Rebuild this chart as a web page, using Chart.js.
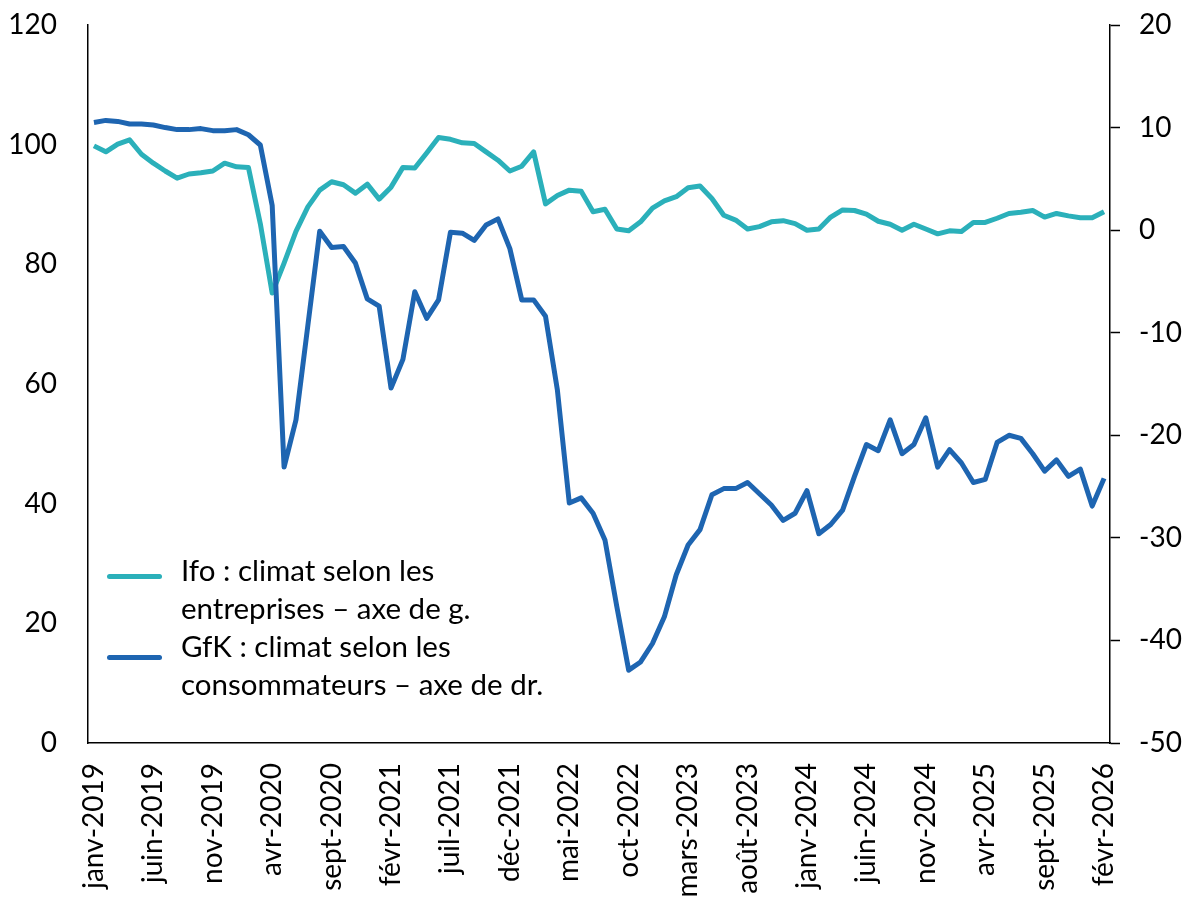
<!DOCTYPE html>
<html>
<head>
<meta charset="utf-8">
<script src="https://cdn.jsdelivr.net/npm/chart.js@4.4.0/dist/chart.umd.min.js"></script>
<style>
  html, body { margin: 0; padding: 0; background: #ffffff; }
  #wrap { position: relative; width: 1185px; height: 903px; }
  #c { position: absolute; left: 0; top: 0; }
  #legend { position: absolute; left: 0; top: 0; width: 1185px; height: 903px; pointer-events: none;
            font-family: 'Lato', 'Carlito', sans-serif; font-size: 29.5px; color: #000; }
  .mk { position: absolute; width: 55px; height: 5px; border-radius: 2.5px; }
  .tx { position: absolute; left: 181px; line-height: 37.5px; white-space: nowrap; }
</style>
</head>
<body>
<div id="wrap">
  <canvas id="c" width="1185" height="903"></canvas>
  <div id="legend"></div>
</div>
<script>
// ---- data ----
const monthNames = ['janv','févr','mars','avr','mai','juin','juil','août','sept','oct','nov','déc'];
const categories = [];
for (let y = 2019; y <= 2026; y++) {
  for (let m = 0; m < 12; m++) {
    if (y === 2026 && m > 1) break;
    categories.push(monthNames[m] + '-' + y);
  }
}
const tickEvery = 5;

// Ifo business climate (left axis)
const ifoValues = [
  99.8, 98.8, 100.1, 100.8, 98.4, 96.9, 95.6, 94.4, 95.1, 95.3, 95.6, 96.9,
  96.3, 96.2, 86.8, 75.2, 80.2, 85.5, 89.6, 92.4, 93.8, 93.3, 91.9, 93.4,
  90.9, 92.9, 96.2, 96.1, 98.6, 101.2, 100.9, 100.3, 100.2, 98.8, 97.4, 95.6,
  96.4, 98.8, 90.1, 91.5, 92.4, 92.2, 88.8, 89.2, 85.9, 85.6, 87.1, 89.4,
  90.6, 91.3, 92.8, 93.1, 91.0, 88.2, 87.4, 85.9, 86.3, 87.1, 87.3, 86.8,
  85.7, 85.9, 87.9, 89.1, 89.0, 88.4, 87.2, 86.7, 85.7, 86.7, 85.9, 85.1,
  85.6, 85.5, 87.0, 87.0, 87.7, 88.5, 88.7, 89.0, 87.9, 88.5, 88.1, 87.8,
  87.8, 88.8
];

// GfK consumer climate (right axis)
const gfkValues = [
  10.5, 10.7, 10.6, 10.35, 10.35, 10.25, 10.0, 9.8, 9.8, 9.9, 9.7, 9.7,
  9.8, 9.3, 8.3, 2.4, -23.1, -18.5, -9.3, -0.1, -1.7, -1.6, -3.2, -6.7,
  -7.4, -15.4, -12.6, -6.0, -8.6, -6.8, -0.2, -0.3, -1.0, 0.5, 1.1, -1.8,
  -6.8, -6.8, -8.4, -15.6, -26.6, -26.1, -27.6, -30.2, -36.7, -42.9, -42.1, -40.3,
  -37.7, -33.6, -30.7, -29.2, -25.8, -25.2, -25.2, -24.6, -25.7, -26.8, -28.3, -27.6,
  -25.4, -29.6, -28.7, -27.3, -24.0, -20.9, -21.5, -18.5, -21.8, -20.9, -18.3, -23.1,
  -21.4, -22.7, -24.6, -24.3, -20.7, -20.0, -20.3, -21.8, -23.5, -22.4, -24.0, -23.3,
  -26.9, -24.2
];

const ifoLabel = ['Ifo : climat selon les', 'entreprises – axe de g.'];
const gfkLabel = ['GfK : climat selon les', 'consommateurs – axe de dr.'];

const leftAxis = { min: 0, max: 120, step: 20 };
const rightAxis = { min: -50, max: 20, step: 10 };

// ---- styles ----
const ifoColor = '#2BB0BA';
const gfkColor = '#1E65B1';
const fontFamily = "'Lato', 'Carlito', sans-serif";
const tickFont = { family: fontFamily, size: 28 };

function fixV(width) {
  return function(s) { s.width = width; s.paddingTop = 0; s.paddingBottom = 0; };
}

const chart = new Chart(document.getElementById('c'), {
  type: 'line',
  data: {
    labels: categories,
    datasets: [
      { label: ifoLabel.join(' '), data: ifoValues, yAxisID: 'y', borderColor: ifoColor, backgroundColor: ifoColor,
        borderWidth: 5, pointRadius: 0, tension: 0, borderJoinStyle: 'round', order: 2 },
      { label: gfkLabel.join(' '), data: gfkValues, yAxisID: 'y1', borderColor: gfkColor, backgroundColor: gfkColor,
        borderWidth: 5, pointRadius: 0, tension: 0, borderJoinStyle: 'round', order: 1 }
    ]
  },
  options: {
    responsive: false,
    devicePixelRatio: 1,
    animation: false,
    layout: { padding: { top: 25, left: 0, right: 0, bottom: 0 } },
    plugins: { legend: { display: false }, tooltip: { enabled: false } },
    scales: {
      x: {
        type: 'category',
        offset: true,
        grid: { display: false, drawTicks: false },
        border: { display: true, color: '#000', width: 1.5 },
        ticks: {
          autoSkip: false, minRotation: 90, maxRotation: 90, padding: 20,
          color: '#000', font: tickFont,
          callback: function(val, idx) { return idx % tickEvery === 0 ? categories[idx] : null; }
        },
        afterFit: function(s) { s.height = 160; s.paddingLeft = 0; s.paddingRight = 0; }
      },
      y: {
        position: 'left', min: leftAxis.min, max: leftAxis.max,
        grid: { display: false, drawTicks: false },
        border: { display: true, color: '#000', width: 1.5 },
        ticks: { stepSize: leftAxis.step, padding: 31, color: '#000', font: tickFont },
        afterFit: fixV(88)
      },
      y1: {
        position: 'right', min: rightAxis.min, max: rightAxis.max,
        grid: { display: true, drawOnChartArea: false, drawTicks: true, tickLength: 10, tickColor: '#000', tickWidth: 1.5, color: '#000' },
        border: { display: true, color: '#000', width: 1.5 },
        ticks: { stepSize: rightAxis.step, padding: 19, color: '#000', font: tickFont },
        afterFit: fixV(75)
      }
    }
  }
});

// ---- HTML legend built from dataset colours & labels ----
const legend = document.getElementById('legend');
const items = [
  { color: ifoColor, lines: ifoLabel, markerTop: 574, textTop: 551 },
  { color: gfkColor, lines: gfkLabel, markerTop: 655, textTop: 627 }
];
items.forEach(function(it) {
  const mk = document.createElement('div');
  mk.className = 'mk';
  mk.style.left = '107px';
  mk.style.top = it.markerTop + 'px';
  mk.style.background = it.color;
  legend.appendChild(mk);
  const tx = document.createElement('div');
  tx.className = 'tx';
  tx.style.top = it.textTop + 'px';
  tx.innerHTML = it.lines.join('<br>');
  legend.appendChild(tx);
});
</script>
</body>
</html>
